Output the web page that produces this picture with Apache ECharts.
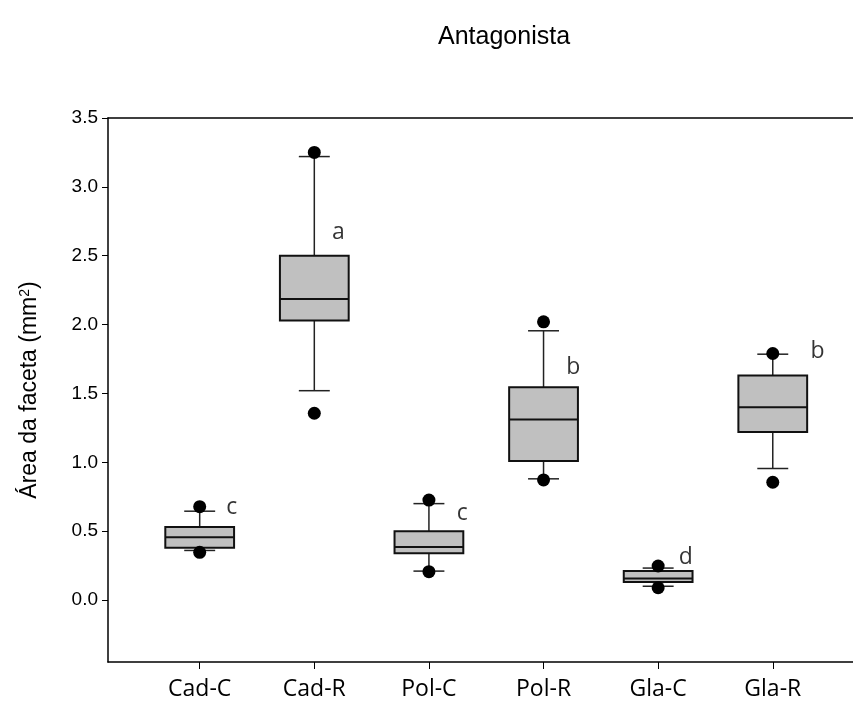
<!DOCTYPE html>
<html>
<head>
<meta charset="utf-8">
<script src="https://cdn.jsdelivr.net/npm/echarts@6/dist/echarts.min.js"></script>
<style>
  html, body { margin: 0; padding: 0; background: #fff; }
</style>
</head>
<body>
<div id="myChart" style="width: 853px; height: 711px;"></div>
<script>
// data
let groups = ['Cad-C', 'Cad-R', 'Pol-C', 'Pol-R', 'Gla-C', 'Gla-R']
let groupPos = [1, 2, 3, 4, 5, 6]
// [min whisker, Q1, median, Q3, max whisker]
let boxes = [
    [0.36, 0.38, 0.455, 0.53, 0.645],
    [1.52, 2.03, 2.185, 2.50, 3.22],
    [0.21, 0.34, 0.385, 0.50, 0.70],
    [0.88, 1.01, 1.31, 1.545, 1.955],
    [0.10, 0.13, 0.157, 0.21, 0.232],
    [0.955, 1.22, 1.40, 1.63, 1.785]
]
// outlier points [group position, value]
let outliers = [
    [1, 0.678], [1, 0.346],
    [2, 3.25], [2, 1.356],
    [3, 0.726], [3, 0.206],
    [4, 2.02], [4, 0.872],
    [5, 0.247], [5, 0.089],
    [6, 1.79], [6, 0.855]
]
// significance letters [x, y, letter]
let letters = [
    [1.28, 0.675, 'c'],
    [2.21, 2.67, 'a'],
    [3.29, 0.632, 'c'],
    [4.26, 1.692, 'b'],
    [5.24, 0.312, 'd'],
    [6.39, 1.808, 'b']
]
let yTicks = [0, 0.5, 1, 1.5, 2, 2.5, 3, 3.5]

let boxData = boxes.map((b, i) => [groupPos[i]].concat(b))

let myChart = echarts.init(document.getElementById('myChart'))

myChart.setOption({
    animation: false,
    title: {
        text: 'Antagonista',
        left: 433,
        top: 20,
        textStyle: {
            fontFamily: 'Liberation Sans',
            fontSize: 25,
            fontWeight: 'normal',
            color: '#000'
        }
    },
    grid: {
        left: 108,
        right: 0,
        top: 118,
        bottom: 49
    },
    xAxis: [{
        type: 'value',
        min: 0.2,
        max: 6.7,
        splitLine: {show: false},
        axisLine: {onZero: false, lineStyle: {color: '#000', width: 1.5}},
        axisTick: {
            show: true,
            length: 7,
            customValues: groupPos,
            lineStyle: {color: '#000', width: 1}
        },
        axisLabel: {
            customValues: groupPos,
            margin: 16,
            fontFamily: 'Open Sans',
            fontSize: 23,
            color: '#000',
            formatter: v => groups[Math.round(v) - 1]
        }
    }, {
        // top border of the frame
        type: 'value',
        position: 'top',
        min: 0.2,
        max: 6.7,
        splitLine: {show: false},
        axisTick: {show: false},
        axisLabel: {show: false},
        axisLine: {show: true, onZero: false, lineStyle: {color: '#000', width: 1.5}}
    }],
    yAxis: {
        type: 'value',
        min: -0.45,
        max: 3.5,
        name: 'Área da faceta (mm{sup|2})',
        nameLocation: 'middle',
        nameGap: 66,
        nameTextStyle: {
            fontFamily: 'Liberation Sans',
            fontSize: 23,
            color: '#000',
            rich: {
                sup: {
                    fontFamily: 'Liberation Sans',
                    fontSize: 14,
                    verticalAlign: 'top',
                    padding: [0, 0, 10, 0],
                    color: '#000'
                }
            }
        },
        splitLine: {show: false},
        axisLine: {show: true, onZero: false, lineStyle: {color: '#000', width: 1.5}},
        axisTick: {
            show: true,
            length: 6,
            customValues: yTicks,
            lineStyle: {color: '#000', width: 1}
        },
        axisLabel: {
            customValues: yTicks,
            margin: 10,
            fontFamily: 'Liberation Sans',
            fontSize: 19,
            color: '#000',
            formatter: v => v.toFixed(1)
        }
    },
    series: [
        {
            type: 'custom',
            data: boxData,
            encode: {x: 0, y: [1, 2, 3, 4, 5]},
            renderItem: function (params, api) {
                let x = api.value(0)
                let lo = api.coord([x, api.value(1)])
                let q1 = api.coord([x, api.value(2)])
                let med = api.coord([x, api.value(3)])
                let q3 = api.coord([x, api.value(4)])
                let hi = api.coord([x, api.value(5)])
                let half = api.size([0.6, 0])[0] / 2
                let cap = api.size([0.27, 0])[0] / 2
                let cx = lo[0]
                let wStyle = {stroke: '#222', lineWidth: 1.5}
                return {
                    type: 'group',
                    children: [
                        {type: 'line', shape: {x1: cx, y1: hi[1], x2: cx, y2: q3[1]}, style: wStyle},
                        {type: 'line', shape: {x1: cx, y1: q1[1], x2: cx, y2: lo[1]}, style: wStyle},
                        {type: 'line', shape: {x1: cx - cap, y1: hi[1], x2: cx + cap, y2: hi[1]}, style: wStyle},
                        {type: 'line', shape: {x1: cx - cap, y1: lo[1], x2: cx + cap, y2: lo[1]}, style: wStyle},
                        {
                            type: 'rect',
                            shape: {x: cx - half, y: q3[1], width: half * 2, height: q1[1] - q3[1]},
                            style: {fill: '#c0c0c0', stroke: '#111', lineWidth: 2}
                        },
                        {type: 'line', shape: {x1: cx - half, y1: med[1], x2: cx + half, y2: med[1]}, style: {stroke: '#111', lineWidth: 2}}
                    ]
                }
            }
        },
        {
            type: 'scatter',
            data: outliers,
            symbol: 'circle',
            symbolSize: 13,
            itemStyle: {color: '#000', opacity: 1},
            z: 5
        },
        {
            type: 'scatter',
            data: letters,
            symbolSize: 0,
            label: {
                show: true,
                position: 'inside',
                formatter: p => p.data[2],
                fontFamily: 'Open Sans',
                fontSize: 23,
                color: '#000'
            }
        }
    ]
})
</script>
</body>
</html>
